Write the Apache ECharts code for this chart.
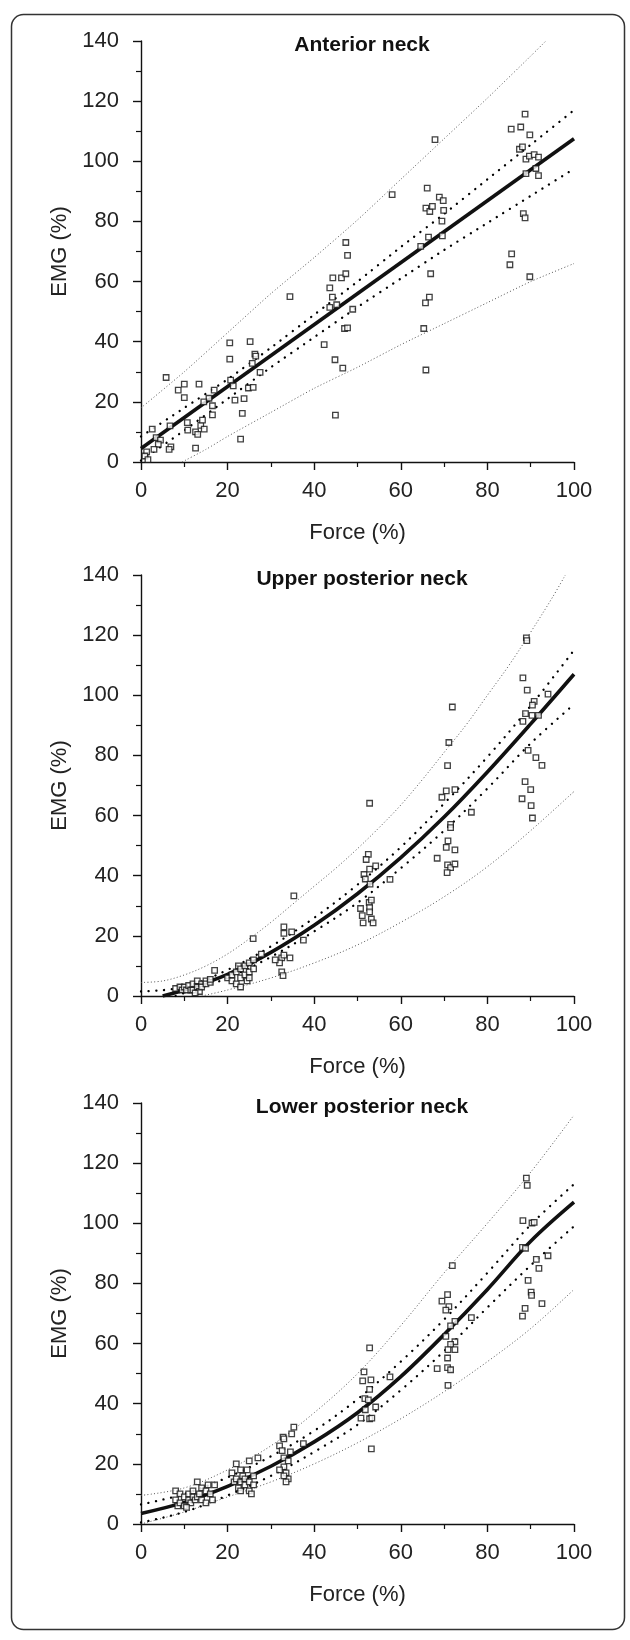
<!DOCTYPE html>
<html>
<head>
<meta charset="utf-8">
<script src="https://cdn.jsdelivr.net/npm/echarts@6/dist/echarts.min.js"></script>
<style>
html,body{margin:0;padding:0;background:#fff;}
#c{width:630px;height:1640px;}
</style>
</head>
<body>
<div id="c"></div>
<script>
// ---------- DATA ----------
const panelTitles = ['Anterior neck', 'Upper posterior neck', 'Lower posterior neck'];
const xTicks = [0, 20, 40, 60, 80, 100];
const yTicks = [0, 20, 40, 60, 80, 100, 120, 140];

// Anterior neck
const anteriorPoints = [[5.8,28.1],[8.6,23.9],[10,25.9],[10,21.4],[13.4,25.9],[15.7,21.2],[16.9,23.9],[14.5,20],[16.5,18.7],[16.5,15.7],[10.7,13.1],[10.8,10.6],[12.6,10],[13.1,9.2],[13.8,12.2],[14.2,13.9],[14.6,10.9],[6.7,12],[2.6,10.9],[3.5,8.1],[4.5,7.3],[4,5.9],[3,4.2],[6.9,5],[6.5,4.2],[12.6,4.6],[1.3,3.4],[0.9,2],[1.6,0.8],[20.5,39.6],[20.5,34.2],[20.7,27.2],[21.3,25.3],[21.7,20.6],[23.4,16.2],[23.8,21.1],[23,7.6],[25.2,40],[26.3,35.9],[26.5,35.2],[25.7,32.8],[27.5,29.8],[24.8,24.6],[25.9,24.8],[34.4,55],[42.3,39],[43.6,57.9],[44.3,61.2],[46.3,61.2],[47.3,62.6],[44.2,54.8],[45.2,52.3],[43.6,51.4],[47.3,73],[47.7,68.7],[48.9,50.8],[47,44.4],[47.7,44.6],[44.8,34],[46.6,31.2],[44.9,15.6],[58,88.9],[67.9,107.2],[66.1,91.1],[65.8,84.4],[66.7,83.3],[67.3,85],[68.9,88.1],[69.8,86.9],[69.9,83.7],[69.5,80.1],[66.4,74.8],[64.6,71.7],[69.6,75.2],[66.9,62.6],[66.6,54.8],[65.7,52.9],[65.3,44.4],[65.8,30.6],[88.7,115.7],[85.5,110.7],[87.7,111.4],[89.8,108.8],[87.4,104],[88.1,104.8],[88.9,100.7],[89.7,101.7],[90.8,102.2],[91.8,101.4],[91.2,97.6],[91.8,95.2],[88.9,95.9],[88.3,82.6],[88.7,81.2],[85.6,69.2],[85.2,65.6],[89.8,61.6]];
const anteriorFit = [[0,4.5],[100,107.5]];
const anteriorCIUpper = [[0,8.5],[10,18],[20,27.5],[30,38],[40,49],[50,60],[60,71.5],[70,82.5],[80,94],[90,105.5],[100,117]];
const anteriorCILower = [[0,0.5],[10,10.5],[20,21],[30,31.5],[40,41.5],[50,51.5],[60,61],[70,70.5],[80,79.5],[90,88.5],[100,97.5]];
const anteriorPIUpper = [[0,18],[10,30],[20,43],[30,56],[40,68],[50,80.5],[60,94],[70,107.5],[80,121],[90,135],[93.5,140]];
const anteriorPILower = [[9.5,0],[15,4.2],[20,8.5],[30,16.5],[40,24.5],[50,31.5],[60,39],[70,46],[80,53],[90,60],[100,66]];

// Upper posterior neck
const upperPoints = [[8,2.5],[9,3],[9.5,2],[10,3],[10.5,2],[11,3.5],[11.5,2],[12,2],[12,4],[13,5],[13,3],[13.5,1.5],[14,4],[14,3],[15,5],[15,4],[16,4.5],[16,5.5],[12.5,1],[17,8.5],[20,6],[21,7],[21,5],[22,8],[22,4],[22.5,10],[23,9],[23,6],[23,3],[24,10],[24,7],[24.5,5],[25,11],[25,8],[25,6],[26,9],[26,12],[25.9,19.1],[27.8,13.9],[33,23],[33,20.8],[34.8,21.3],[37.5,18.6],[32.5,12.7],[34.4,12.7],[35.3,33.3],[33,13.6],[32.5,8],[32.8,6.8],[32,11],[31,12],[52.8,64.1],[52.5,47.1],[52,45.4],[51.5,40.4],[51.8,38.9],[52.8,42.2],[54.2,43.3],[52.9,37.2],[57.5,38.8],[52.7,31.1],[53.2,31.9],[50.7,29.1],[52.8,29.4],[52.8,28],[51.1,26.7],[53.2,25.6],[51.3,24.3],[53.6,24.3],[71.9,96.1],[71.1,84.3],[70.8,76.6],[70.5,68.2],[72.5,68.6],[69.5,66.1],[76.3,61.1],[71.5,57.1],[71.5,56],[70.9,51.6],[70.5,49.4],[72.5,48.6],[68.4,45.8],[70.8,43.6],[71.5,42.7],[72.5,43.9],[70.7,41],[89,119.1],[89.1,118.2],[88.2,105.8],[89.2,101.7],[94,100.4],[90.8,98],[90.4,96.7],[88.8,93.9],[90.3,93.3],[91.8,93.3],[88.2,91.3],[89.4,81.7],[91.2,79.3],[92.6,76.7],[88.7,71.3],[90,68.6],[88,65.6],[90.1,63.3],[90.4,59.2]];
const upperFit = [[5,0],[10,2],[20,7.2],[30,14.5],[40,23.5],[50,34],[60,46],[70,59.5],[80,74.5],[90,90.5],[100,107]];
const upperCIUpper = [[0,1.5],[10,3],[20,8.7],[30,16.5],[40,26],[50,37],[60,49.5],[70,64],[80,79.5],[90,96.5],[100,115]];
const upperCILower = [[8,0],[10,1],[20,6],[30,13],[40,21.5],[50,31],[60,42.5],[70,55],[80,69],[90,84],[100,97]];
const upperPIUpper = [[0,4.5],[5,5],[10,7],[15,10],[20,14],[25,19],[30,24.5],[35,30.5],[40,36.5],[45,42.5],[50,49],[55,56],[60,63.5],[65,72],[70,81],[75,90],[80,100],[85,110],[90,121],[95,132.5],[98,140]];
const upperPILower = [[14,0],[20,2],[30,6],[40,11],[50,17],[60,24.5],[70,33],[80,43],[90,55],[100,68]];

// Lower posterior neck
const lowerPoints = [[8,8],[8,11],[8.5,6],[9,10],[9,7],[10,9],[10,6],[11,8],[11,10],[11.5,7],[12,9],[12,11],[12.5,8],[13,14],[13,9],[13.5,10],[14,12],[14,8],[15,11],[15,7],[15.5,13],[16,10],[16.5,8],[17,13],[10.5,5.5],[21,17],[21.5,14],[22,20],[22,15],[22.5,12],[23,14],[23,11],[23.5,16],[24,15],[24,13],[24.5,18],[25,21],[25,11],[25,14],[25.5,10],[26,16],[26,13],[27,22],[23,18],[32,26],[32.6,24.4],[32.8,28.9],[33,28.3],[34.8,30],[35.3,32.2],[37.5,26.7],[33,22],[33,19],[33.5,17],[34,15],[33,16],[34,21],[32,18],[34.5,24],[33.5,14],[52.8,58.6],[51.5,50.6],[53.1,47.9],[51.2,47.6],[52.8,44.8],[51.7,41.7],[52.5,41.3],[57.5,48.9],[54.2,38.9],[51.8,38],[50.8,35.2],[52.8,35],[53.3,35.2],[53.2,25],[71.9,85.9],[70.8,76.3],[69.5,74.1],[71.1,72.3],[70.4,71.1],[72.5,67.4],[71.5,65.9],[76.3,68.6],[70.4,62.4],[72.5,60.6],[71.5,59.7],[70.9,58],[72.5,58],[68.4,51.7],[70.8,55.2],[70.8,52],[71.5,51.3],[70.9,46.1],[89,115],[89.2,112.6],[88.2,100.9],[90.3,100.1],[90.8,100.3],[88.1,92],[88.8,91.7],[91.3,88],[94,89.2],[91.9,85],[89.4,81],[90.1,77.1],[90.2,76],[92.6,73.3],[88.7,71.7],[88.1,69.1]];
const lowerFit = [[0,3.5],[10,7.2],[20,12.5],[30,19.2],[40,27.3],[50,37],[60,49],[70,63],[80,78],[90,94],[100,107]];
const lowerCIUpper = [[0,6.5],[10,10],[20,15.5],[30,22.5],[40,31],[50,41.5],[60,54],[70,68],[80,83.5],[90,99.5],[100,113]];
const lowerCILower = [[0,0.5],[10,4],[20,9.5],[30,16],[40,24],[50,33],[60,44.5],[70,57.5],[80,72],[90,86],[100,99]];
const lowerPIUpper = [[0,9.5],[10,12],[20,18],[30,26],[40,37],[50,50],[60,66],[70,83.5],[80,100],[90,117],[100,136]];
const lowerPILower = [[0,0],[10,4],[20,9],[30,14],[40,20],[50,27],[60,35],[70,44],[80,54],[90,65],[100,78]];

// ---------- CHART ----------
const FONT = 'Liberation Sans';
const panels = [
  {title: panelTitles[0], pts: anteriorPoints, fit: anteriorFit, ciu: anteriorCIUpper, cil: anteriorCILower, piu: anteriorPIUpper, pil: anteriorPILower, smooth: false},
  {title: panelTitles[1], pts: upperPoints, fit: upperFit, ciu: upperCIUpper, cil: upperCILower, piu: upperPIUpper, pil: upperPILower, smooth: true},
  {title: panelTitles[2], pts: lowerPoints, fit: lowerFit, ciu: lowerCIUpper, cil: lowerCILower, piu: lowerPIUpper, pil: lowerPILower, smooth: true}
];
const tops = [41, 575, 1103];
const gridH = 421;

const grid = [], xAxis = [], yAxis = [], series = [], title = [];
panels.forEach((p, i) => {
  grid.push({left: 141, right: 56, top: tops[i], height: gridH, containLabel: false});
  const axisCommon = {
    axisLine: {show: true, lineStyle: {color: '#111', width: 1.4}},
    axisTick: {show: true, length: 8, lineStyle: {color: '#111', width: 1.4}},
    minorTick: {show: true, splitNumber: 2, length: 5, lineStyle: {color: '#111', width: 1.2}},
    splitLine: {show: false},
    nameTextStyle: {fontFamily: FONT, fontSize: 22, color: '#222'},
    axisLabel: {fontFamily: FONT, fontSize: 22, color: '#222'}
  };
  xAxis.push(Object.assign({}, axisCommon, {
    type: 'value', gridIndex: i, min: xTicks[0], max: xTicks[xTicks.length - 1], interval: xTicks[1] - xTicks[0],
    name: 'Force (%)', nameLocation: 'middle', nameGap: 60,
    axisLabel: Object.assign({}, axisCommon.axisLabel, {margin: 18})
  }));
  yAxis.push(Object.assign({}, axisCommon, {
    type: 'value', gridIndex: i, min: yTicks[0], max: yTicks[yTicks.length - 1], interval: yTicks[1] - yTicks[0],
    name: 'EMG (%)', nameLocation: 'middle', nameGap: 67,
    axisLabel: Object.assign({}, axisCommon.axisLabel, {margin: 22})
  }));
  title.push({text: p.title, left: 357, top: tops[i] - 11, textAlign: 'center',
    textStyle: {fontFamily: FONT, fontSize: 21, fontWeight: 'bold', color: '#111'}});
  const lineBase = {type: 'line', xAxisIndex: i, yAxisIndex: i, showSymbol: false, symbol: 'none', clip: true, silent: true};
  const sm = p.smooth ? 0.35 : 0.2;
  series.push(Object.assign({}, lineBase, {data: p.piu, smooth: sm, z: 2,
    lineStyle: {color: '#555', width: 1, type: [1, 2.3]}}));
  series.push(Object.assign({}, lineBase, {data: p.pil, smooth: sm, z: 2,
    lineStyle: {color: '#555', width: 1, type: [1, 2.3]}}));
  series.push(Object.assign({}, lineBase, {data: p.ciu, smooth: sm, z: 3,
    lineStyle: {color: '#000', width: 2.3, type: [0.1, 7.6], cap: 'round'}}));
  series.push(Object.assign({}, lineBase, {data: p.cil, smooth: sm, z: 3,
    lineStyle: {color: '#000', width: 2.3, type: [0.1, 7.6], cap: 'round'}}));
  series.push(Object.assign({}, lineBase, {data: p.fit, smooth: p.smooth ? 0.35 : false, z: 4,
    lineStyle: {color: '#111', width: 3.6}}));
  series.push({type: 'scatter', xAxisIndex: i, yAxisIndex: i, data: p.pts, symbol: 'rect', symbolSize: 5.5, z: 5,
    itemStyle: {color: '#fff', borderColor: '#111', borderWidth: 1.3}, silent: true});
});

const chart = echarts.init(document.getElementById('c'), null, {renderer: 'canvas'});
chart.setOption({
  animation: false,
  backgroundColor: '#fff',
  title: title,
  grid: grid,
  xAxis: xAxis,
  yAxis: yAxis,
  series: series,
  graphic: [{
    type: 'rect', left: 9, top: 12, z: 0,
    shape: {width: 613, height: 1615, r: 12},
    style: {fill: 'none', stroke: '#333', lineWidth: 1.5}
  }]
});
</script>
</body>
</html>
